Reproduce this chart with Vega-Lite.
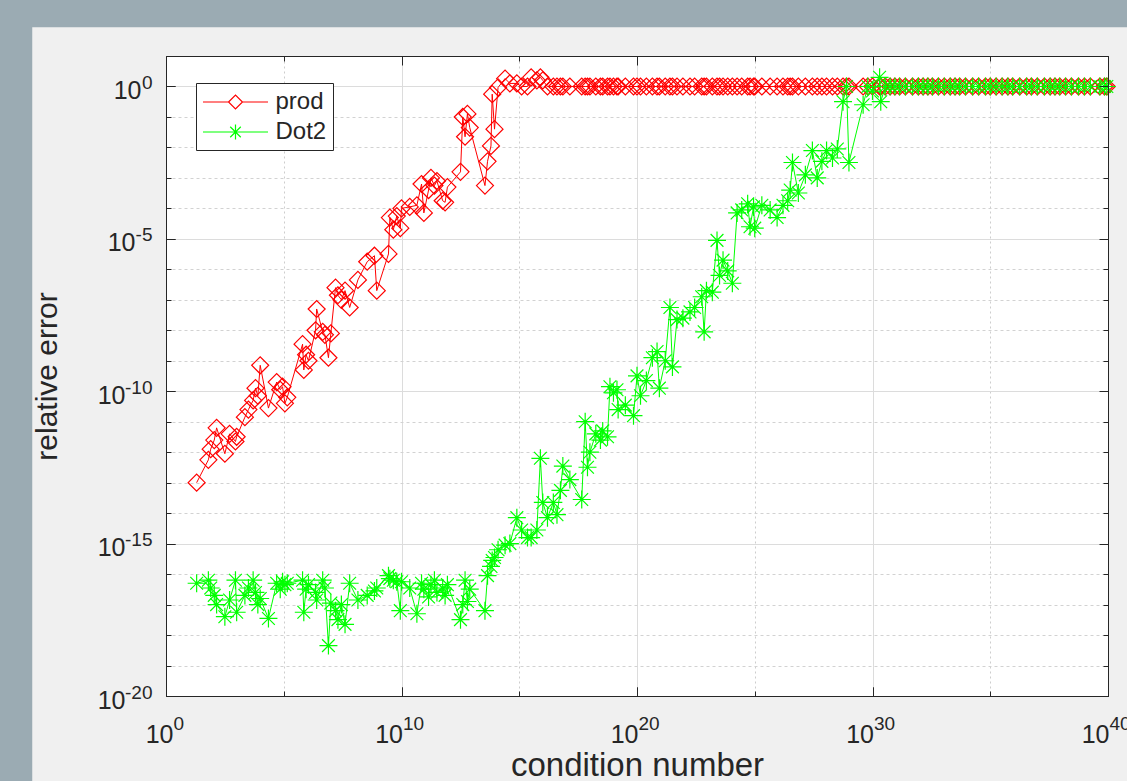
{
  "$schema": "https://vega.github.io/schema/vega-lite/v6.json",
  "width": 942,
  "height": 640,
  "autosize": {"type": "none"},
  "padding": {"left": 166, "top": 56, "right": 19, "bottom": 85},
  "background": "#F0F0F0",
  "config": {
    "font": "Liberation Sans",
    "view": {"fill": "#FFFFFF", "stroke": "#262626", "strokeWidth": 1},
    "axis": {"labelFont": "Liberation Sans", "titleFont": "Liberation Sans", "labelColor": "#262626", "titleColor": "#262626", "tickColor": "#262626", "domainColor": "#262626", "titleFontWeight": "normal", "tickWidth": 1, "domainWidth": 1}
  },
  "data": {"name": "pts"},
  "datasets": {
    "pts": [
      {"cond":20,"series":"prod","error":1e-13},{"cond":63,"series":"prod","error":5.6e-13},{"cond":79,"series":"prod","error":1.26e-12},{"cond":112,"series":"prod","error":2.5e-12},{"cond":141,"series":"prod","error":6.3e-12},{"cond":316,"series":"prod","error":8.9e-13},{"cond":501,"series":"prod","error":4e-12},{"cond":891,"series":"prod","error":2.24e-12},{"cond":1000,"series":"prod","error":3.2e-12},{"cond":2239,"series":"prod","error":1.41e-11},{"cond":3162,"series":"prod","error":2.5e-11},{"cond":5012,"series":"prod","error":5e-11},{"cond":6310,"series":"prod","error":1.26e-10},{"cond":7943,"series":"prod","error":7.1e-11},{"cond":1e4,"series":"prod","error":7.1e-10},{"cond":2.24e4,"series":"prod","error":2.8e-11},{"cond":5e4,"series":"prod","error":2e-10},{"cond":7.1e4,"series":"prod","error":1.12e-10},{"cond":8.9e4,"series":"prod","error":1.41e-10},{"cond":1.12e5,"series":"prod","error":4e-11},{"cond":1.41e5,"series":"prod","error":6.3e-11},{"cond":6.3e5,"series":"prod","error":3.5e-9},{"cond":7.1e5,"series":"prod","error":5e-10},{"cond":8.9e5,"series":"prod","error":1.58e-9},{"cond":1.12e6,"series":"prod","error":1e-9},{"cond":2.24e6,"series":"prod","error":1e-8},{"cond":2.5e6,"series":"prod","error":5e-8},{"cond":4.5e6,"series":"prod","error":8.9e-9},{"cond":5.6e6,"series":"prod","error":7.1e-9},{"cond":7.9e6,"series":"prod","error":1.26e-9},{"cond":1e7,"series":"prod","error":7.9e-9},{"cond":1.58e7,"series":"prod","error":2.5e-7},{"cond":2e7,"series":"prod","error":1.41e-7},{"cond":2.8e7,"series":"prod","error":1e-7},{"cond":4e7,"series":"prod","error":2e-7},{"cond":6.3e7,"series":"prod","error":5.6e-8},{"cond":1.41e8,"series":"prod","error":4.5e-7},{"cond":3.5e8,"series":"prod","error":1.78e-6},{"cond":7.1e8,"series":"prod","error":2.8e-6},{"cond":8.9e8,"series":"prod","error":2e-7},{"cond":2.8e9,"series":"prod","error":3.2e-6},{"cond":3.2e9,"series":"prod","error":5e-5},{"cond":4.5e9,"series":"prod","error":2e-5},{"cond":6.3e9,"series":"prod","error":5.6e-5},{"cond":8.9e9,"series":"prod","error":2.24e-5},{"cond":1e10,"series":"prod","error":1e-4},{"cond":2.24e10,"series":"prod","error":1.12e-4},{"cond":4.5e10,"series":"prod","error":1.26e-4},{"cond":7.1e10,"series":"prod","error":6.3e-4},{"cond":8.9e10,"series":"prod","error":7.1e-5},{"cond":1.41e11,"series":"prod","error":4e-4},{"cond":1.78e11,"series":"prod","error":1e-3},{"cond":2.5e11,"series":"prod","error":5.6e-4},{"cond":3.2e11,"series":"prod","error":7.9e-4},{"cond":5.6e11,"series":"prod","error":1.78e-4},{"cond":7.1e11,"series":"prod","error":1.58e-4},{"cond":8.9e11,"series":"prod","error":5e-4},{"cond":3.2e12,"series":"prod","error":1.58e-3},{"cond":4e12,"series":"prod","error":0.1},{"cond":5e12,"series":"prod","error":0.0224},{"cond":6.3e12,"series":"prod","error":0.126},{"cond":7.9e12,"series":"prod","error":0.0447},{"cond":3.5e13,"series":"prod","error":5.6e-4},{"cond":4.5e13,"series":"prod","error":3.5e-3},{"cond":6.3e13,"series":"prod","error":0.0112},{"cond":7.1e13,"series":"prod","error":0.56},{"cond":8.9e13,"series":"prod","error":0.0398},{"cond":1.26e14,"series":"prod","error":0.93},{"cond":2.5e14,"series":"prod","error":1.82},{"cond":4e14,"series":"prod","error":1.26},{"cond":7.9e14,"series":"prod","error":1.26},{"cond":1.26e15,"series":"prod","error":1},{"cond":2.24e15,"series":"prod","error":1},{"cond":3.2e15,"series":"prod","error":2},{"cond":5.6e15,"series":"prod","error":1.58},{"cond":7.9e15,"series":"prod","error":2},{"cond":1e16,"series":"prod","error":1.58},{"cond":1.58e16,"series":"prod","error":1},{"cond":2.8e16,"series":"prod","error":1},{"cond":4e16,"series":"prod","error":1},{"cond":5.6e16,"series":"prod","error":1},{"cond":7.1e16,"series":"prod","error":1},{"cond":1.41e17,"series":"prod","error":1},{"cond":4.5e17,"series":"prod","error":1},{"cond":6.3e17,"series":"prod","error":1},{"cond":7.9e17,"series":"prod","error":1},{"cond":1e18,"series":"prod","error":1},{"cond":1.78e18,"series":"prod","error":1},{"cond":2.8e18,"series":"prod","error":1},{"cond":3.5e18,"series":"prod","error":1},{"cond":5.6e18,"series":"prod","error":1},{"cond":7.1e18,"series":"prod","error":1},{"cond":1e19,"series":"prod","error":1},{"cond":1.41e19,"series":"prod","error":1},{"cond":1.58e19,"series":"prod","error":1},{"cond":3.2e19,"series":"prod","error":1},{"cond":7.1e19,"series":"prod","error":1},{"cond":1e20,"series":"prod","error":1},{"cond":1.41e20,"series":"prod","error":1},{"cond":2.5e20,"series":"prod","error":1},{"cond":4.5e20,"series":"prod","error":1},{"cond":7.1e20,"series":"prod","error":1},{"cond":8.9e20,"series":"prod","error":1},{"cond":1.58e21,"series":"prod","error":1},{"cond":2.5e21,"series":"prod","error":1},{"cond":3.2e21,"series":"prod","error":1},{"cond":5e21,"series":"prod","error":1},{"cond":8.9e21,"series":"prod","error":1},{"cond":1.78e22,"series":"prod","error":1},{"cond":2.8e22,"series":"prod","error":1},{"cond":5.6e22,"series":"prod","error":1},{"cond":7.1e22,"series":"prod","error":1},{"cond":8.9e22,"series":"prod","error":1},{"cond":1.58e23,"series":"prod","error":1},{"cond":2.5e23,"series":"prod","error":1},{"cond":3.2e23,"series":"prod","error":1},{"cond":4.5e23,"series":"prod","error":1},{"cond":7.1e23,"series":"prod","error":1},{"cond":1.12e24,"series":"prod","error":1},{"cond":1.78e24,"series":"prod","error":1},{"cond":2.8e24,"series":"prod","error":1},{"cond":5e24,"series":"prod","error":1},{"cond":6.3e24,"series":"prod","error":1},{"cond":8.9e24,"series":"prod","error":1},{"cond":1e25,"series":"prod","error":1},{"cond":2e25,"series":"prod","error":1},{"cond":4.5e25,"series":"prod","error":1},{"cond":8.9e25,"series":"prod","error":1},{"cond":1.58e26,"series":"prod","error":1},{"cond":2.5e26,"series":"prod","error":1},{"cond":3.2e26,"series":"prod","error":1},{"cond":4e26,"series":"prod","error":1},{"cond":7.1e26,"series":"prod","error":1},{"cond":1.41e27,"series":"prod","error":1},{"cond":2.8e27,"series":"prod","error":1},{"cond":4.5e27,"series":"prod","error":1},{"cond":7.1e27,"series":"prod","error":1},{"cond":1.12e28,"series":"prod","error":1},{"cond":2e28,"series":"prod","error":1},{"cond":3.2e28,"series":"prod","error":1},{"cond":5.6e28,"series":"prod","error":1},{"cond":7.9e28,"series":"prod","error":1},{"cond":1e29,"series":"prod","error":1},{"cond":4e29,"series":"prod","error":1},{"cond":6.3e29,"series":"prod","error":1},{"cond":1e30,"series":"prod","error":1},{"cond":2e30,"series":"prod","error":1},{"cond":2.24e30,"series":"prod","error":1},{"cond":3.5e30,"series":"prod","error":1},{"cond":5.6e30,"series":"prod","error":1},{"cond":8.9e30,"series":"prod","error":1},{"cond":1.41e31,"series":"prod","error":1},{"cond":2.5e31,"series":"prod","error":1},{"cond":5e31,"series":"prod","error":1},{"cond":8.9e31,"series":"prod","error":1},{"cond":1.41e32,"series":"prod","error":1},{"cond":2.24e32,"series":"prod","error":1},{"cond":3.5e32,"series":"prod","error":1},{"cond":6.3e32,"series":"prod","error":1},{"cond":1.12e33,"series":"prod","error":1},{"cond":2e33,"series":"prod","error":1},{"cond":3.2e33,"series":"prod","error":1},{"cond":5e33,"series":"prod","error":1},{"cond":8.9e33,"series":"prod","error":1},{"cond":1.78e34,"series":"prod","error":1},{"cond":3.2e34,"series":"prod","error":1},{"cond":6.3e34,"series":"prod","error":1},{"cond":1e35,"series":"prod","error":1},{"cond":1.78e35,"series":"prod","error":1},{"cond":3.2e35,"series":"prod","error":1},{"cond":5.6e35,"series":"prod","error":1},{"cond":8.9e35,"series":"prod","error":1},{"cond":1.78e36,"series":"prod","error":1},{"cond":3.5e36,"series":"prod","error":1},{"cond":5.6e36,"series":"prod","error":1},{"cond":1e37,"series":"prod","error":1},{"cond":2e37,"series":"prod","error":1},{"cond":3.5e37,"series":"prod","error":1},{"cond":5.6e37,"series":"prod","error":1},{"cond":8.9e37,"series":"prod","error":1},{"cond":1.58e38,"series":"prod","error":1},{"cond":2.8e38,"series":"prod","error":1},{"cond":5.6e38,"series":"prod","error":1},{"cond":1e39,"series":"prod","error":1},{"cond":1.78e39,"series":"prod","error":1},{"cond":4.5e39,"series":"prod","error":1},{"cond":7.1e39,"series":"prod","error":1},{"cond":8.9e39,"series":"prod","error":1},
      {"cond":20,"series":"Dot2","error":5e-17},{"cond":63,"series":"Dot2","error":6.3e-17},{"cond":79,"series":"Dot2","error":3.5e-17},{"cond":112,"series":"Dot2","error":2e-17},{"cond":141,"series":"Dot2","error":1e-17},{"cond":316,"series":"Dot2","error":4e-18},{"cond":501,"series":"Dot2","error":1.41e-17},{"cond":891,"series":"Dot2","error":6.3e-17},{"cond":1000,"series":"Dot2","error":5.6e-18},{"cond":2239,"series":"Dot2","error":2e-17},{"cond":3162,"series":"Dot2","error":3.5e-17},{"cond":5012,"series":"Dot2","error":6.3e-17},{"cond":6310,"series":"Dot2","error":2.5e-17},{"cond":7943,"series":"Dot2","error":1e-17},{"cond":1e4,"series":"Dot2","error":1.58e-17},{"cond":2.24e4,"series":"Dot2","error":3.5e-18},{"cond":5e4,"series":"Dot2","error":5e-17},{"cond":7.1e4,"series":"Dot2","error":3.2e-17},{"cond":8.9e4,"series":"Dot2","error":5.6e-17},{"cond":1.12e5,"series":"Dot2","error":4.5e-17},{"cond":1.41e5,"series":"Dot2","error":5e-17},{"cond":6.3e5,"series":"Dot2","error":6.3e-17},{"cond":7.1e5,"series":"Dot2","error":5.6e-18},{"cond":8.9e5,"series":"Dot2","error":3.2e-17},{"cond":1.12e6,"series":"Dot2","error":4.5e-17},{"cond":2.24e6,"series":"Dot2","error":2.5e-17},{"cond":2.5e6,"series":"Dot2","error":1.41e-17},{"cond":4.5e6,"series":"Dot2","error":6.3e-17},{"cond":5.6e6,"series":"Dot2","error":3.5e-17},{"cond":7.9e6,"series":"Dot2","error":4.5e-19},{"cond":1e7,"series":"Dot2","error":1.12e-17},{"cond":1.58e7,"series":"Dot2","error":6.3e-18},{"cond":2e7,"series":"Dot2","error":3.2e-18},{"cond":2.8e7,"series":"Dot2","error":1e-17},{"cond":4e7,"series":"Dot2","error":2.24e-18},{"cond":6.3e7,"series":"Dot2","error":5e-17},{"cond":1.41e8,"series":"Dot2","error":1.41e-17},{"cond":3.5e8,"series":"Dot2","error":2e-17},{"cond":7.1e8,"series":"Dot2","error":2.8e-17},{"cond":8.9e8,"series":"Dot2","error":3.5e-17},{"cond":2.8e9,"series":"Dot2","error":8.9e-17},{"cond":3.2e9,"series":"Dot2","error":7.1e-17},{"cond":4.5e9,"series":"Dot2","error":6.3e-17},{"cond":6.3e9,"series":"Dot2","error":5.6e-17},{"cond":8.9e9,"series":"Dot2","error":6.3e-18},{"cond":1e10,"series":"Dot2","error":5.6e-17},{"cond":2.24e10,"series":"Dot2","error":3.5e-17},{"cond":4.5e10,"series":"Dot2","error":5e-18},{"cond":7.1e10,"series":"Dot2","error":5e-17},{"cond":8.9e10,"series":"Dot2","error":3.2e-17},{"cond":1.41e11,"series":"Dot2","error":1.78e-17},{"cond":1.78e11,"series":"Dot2","error":4.5e-17},{"cond":2.5e11,"series":"Dot2","error":6.3e-17},{"cond":3.2e11,"series":"Dot2","error":2.5e-17},{"cond":5.6e11,"series":"Dot2","error":3.5e-17},{"cond":7.1e11,"series":"Dot2","error":2e-17},{"cond":8.9e11,"series":"Dot2","error":4.5e-17},{"cond":3.2e12,"series":"Dot2","error":3.2e-18},{"cond":4e12,"series":"Dot2","error":1e-17},{"cond":5e12,"series":"Dot2","error":6.3e-17},{"cond":6.3e12,"series":"Dot2","error":1.26e-17},{"cond":7.9e12,"series":"Dot2","error":3.2e-17},{"cond":3.5e13,"series":"Dot2","error":6.3e-18},{"cond":4.5e13,"series":"Dot2","error":8.9e-17},{"cond":6.3e13,"series":"Dot2","error":1.78e-16},{"cond":7.1e13,"series":"Dot2","error":2.8e-16},{"cond":8.9e13,"series":"Dot2","error":3.5e-16},{"cond":1.26e14,"series":"Dot2","error":6.3e-16},{"cond":2.5e14,"series":"Dot2","error":8.9e-16},{"cond":4e14,"series":"Dot2","error":1e-15},{"cond":7.9e14,"series":"Dot2","error":7.1e-15},{"cond":1.26e15,"series":"Dot2","error":2.8e-15},{"cond":2.24e15,"series":"Dot2","error":1.58e-15},{"cond":3.2e15,"series":"Dot2","error":1.58e-15},{"cond":5.6e15,"series":"Dot2","error":2.8e-15},{"cond":7.9e15,"series":"Dot2","error":6.3e-13},{"cond":1e16,"series":"Dot2","error":2.24e-14},{"cond":1.58e16,"series":"Dot2","error":7.1e-15},{"cond":2.8e16,"series":"Dot2","error":2.24e-14},{"cond":4e16,"series":"Dot2","error":8.9e-15},{"cond":5.6e16,"series":"Dot2","error":5.6e-14},{"cond":7.1e16,"series":"Dot2","error":3.5e-13},{"cond":1.41e17,"series":"Dot2","error":1.26e-13},{"cond":4.5e17,"series":"Dot2","error":2.8e-14},{"cond":6.3e17,"series":"Dot2","error":1e-11},{"cond":7.9e17,"series":"Dot2","error":3.2e-13},{"cond":1e18,"series":"Dot2","error":1e-12},{"cond":1.78e18,"series":"Dot2","error":4e-12},{"cond":2.8e18,"series":"Dot2","error":2.5e-12},{"cond":3.5e18,"series":"Dot2","error":5e-12},{"cond":5.6e18,"series":"Dot2","error":3.2e-12},{"cond":7.1e18,"series":"Dot2","error":1.41e-10},{"cond":1e19,"series":"Dot2","error":8.9e-11},{"cond":1.41e19,"series":"Dot2","error":1.12e-10},{"cond":1.58e19,"series":"Dot2","error":2.5e-11},{"cond":3.2e19,"series":"Dot2","error":3.5e-11},{"cond":7.1e19,"series":"Dot2","error":1.58e-11},{"cond":1e20,"series":"Dot2","error":3.2e-10},{"cond":1.41e20,"series":"Dot2","error":7.1e-11},{"cond":2.5e20,"series":"Dot2","error":2.24e-10},{"cond":4.5e20,"series":"Dot2","error":1.26e-9},{"cond":7.1e20,"series":"Dot2","error":2e-9},{"cond":8.9e20,"series":"Dot2","error":1.26e-10},{"cond":1.58e21,"series":"Dot2","error":1e-9},{"cond":2.5e21,"series":"Dot2","error":5.6e-8},{"cond":3.2e21,"series":"Dot2","error":6.3e-10},{"cond":5e21,"series":"Dot2","error":2.24e-8},{"cond":8.9e21,"series":"Dot2","error":2.5e-8},{"cond":1.78e22,"series":"Dot2","error":4e-8},{"cond":2.8e22,"series":"Dot2","error":5.6e-8},{"cond":5.6e22,"series":"Dot2","error":1.26e-7},{"cond":7.1e22,"series":"Dot2","error":8.9e-9},{"cond":8.9e22,"series":"Dot2","error":2e-7},{"cond":1.58e23,"series":"Dot2","error":1.78e-7},{"cond":2.5e23,"series":"Dot2","error":8.9e-6},{"cond":3.2e23,"series":"Dot2","error":6.3e-7},{"cond":4.5e23,"series":"Dot2","error":2e-6},{"cond":7.1e23,"series":"Dot2","error":8.9e-7},{"cond":1.12e24,"series":"Dot2","error":3.5e-7},{"cond":1.78e24,"series":"Dot2","error":7.1e-5},{"cond":2.8e24,"series":"Dot2","error":8.9e-5},{"cond":5e24,"series":"Dot2","error":1.41e-4},{"cond":6.3e24,"series":"Dot2","error":2.5e-5},{"cond":8.9e24,"series":"Dot2","error":1.12e-4},{"cond":1e25,"series":"Dot2","error":2.24e-5},{"cond":2e25,"series":"Dot2","error":1.26e-4},{"cond":4.5e25,"series":"Dot2","error":8.9e-5},{"cond":8.9e25,"series":"Dot2","error":5e-5},{"cond":1.58e26,"series":"Dot2","error":1.26e-4},{"cond":2.5e26,"series":"Dot2","error":1.78e-4},{"cond":3.2e26,"series":"Dot2","error":4e-4},{"cond":4e26,"series":"Dot2","error":3.2e-3},{"cond":7.1e26,"series":"Dot2","error":3.2e-4},{"cond":1.41e27,"series":"Dot2","error":1.26e-3},{"cond":2.8e27,"series":"Dot2","error":7.9e-3},{"cond":4.5e27,"series":"Dot2","error":1e-3},{"cond":7.1e27,"series":"Dot2","error":3.5e-3},{"cond":1.12e28,"series":"Dot2","error":7.9e-3},{"cond":2e28,"series":"Dot2","error":4.5e-3},{"cond":3.2e28,"series":"Dot2","error":8.9e-3},{"cond":5.6e28,"series":"Dot2","error":0.316},{"cond":7.9e28,"series":"Dot2","error":1},{"cond":1e29,"series":"Dot2","error":3.2e-3},{"cond":4e29,"series":"Dot2","error":0.251},{"cond":6.3e29,"series":"Dot2","error":1},{"cond":1e30,"series":"Dot2","error":0.708},{"cond":2e30,"series":"Dot2","error":2},{"cond":2.24e30,"series":"Dot2","error":0.316},{"cond":3.5e30,"series":"Dot2","error":1},{"cond":5.6e30,"series":"Dot2","error":1},{"cond":8.9e30,"series":"Dot2","error":1},{"cond":1.41e31,"series":"Dot2","error":1},{"cond":2.5e31,"series":"Dot2","error":1},{"cond":5e31,"series":"Dot2","error":1},{"cond":8.9e31,"series":"Dot2","error":1},{"cond":1.41e32,"series":"Dot2","error":1},{"cond":2.24e32,"series":"Dot2","error":1},{"cond":3.5e32,"series":"Dot2","error":1},{"cond":6.3e32,"series":"Dot2","error":1},{"cond":1.12e33,"series":"Dot2","error":1},{"cond":2e33,"series":"Dot2","error":1},{"cond":3.2e33,"series":"Dot2","error":1},{"cond":5e33,"series":"Dot2","error":1},{"cond":8.9e33,"series":"Dot2","error":1},{"cond":1.78e34,"series":"Dot2","error":1},{"cond":3.2e34,"series":"Dot2","error":1},{"cond":6.3e34,"series":"Dot2","error":1},{"cond":1e35,"series":"Dot2","error":1},{"cond":1.78e35,"series":"Dot2","error":1},{"cond":3.2e35,"series":"Dot2","error":1},{"cond":5.6e35,"series":"Dot2","error":1},{"cond":8.9e35,"series":"Dot2","error":1},{"cond":1.78e36,"series":"Dot2","error":1},{"cond":3.5e36,"series":"Dot2","error":1},{"cond":5.6e36,"series":"Dot2","error":1},{"cond":1e37,"series":"Dot2","error":1},{"cond":2e37,"series":"Dot2","error":1},{"cond":3.5e37,"series":"Dot2","error":1},{"cond":5.6e37,"series":"Dot2","error":1},{"cond":8.9e37,"series":"Dot2","error":1},{"cond":1.58e38,"series":"Dot2","error":1},{"cond":2.8e38,"series":"Dot2","error":1},{"cond":5.6e38,"series":"Dot2","error":1},{"cond":1e39,"series":"Dot2","error":1},{"cond":1.78e39,"series":"Dot2","error":1},{"cond":4.5e39,"series":"Dot2","error":1},{"cond":7.1e39,"series":"Dot2","error":1},{"cond":8.9e39,"series":"Dot2","error":1}
    ]
  },
  "layer": [
    {
      "data": {"values": [{}]},
      "mark": {"type": "rect", "color": "#9BABB3", "clip": false},
      "encoding": {
        "x": {"datum": 1e-30, "type": "quantitative", "scale": {"type": "log", "domain": [1, 1e40], "nice": false},
          "axis": {"orient": "bottom", "values": [1, 1e10, 1e20, 1e30, 1e40], "grid": false, "domain": true, "ticks": true, "tickSize": -9,
            "labelExpr": "'10'",
            "labelFontSize": 25, "labelBaseline": "alphabetic", "labelAlign": "right", "labelPadding": 55, "labelOverlap": false, "labelFlush": false, "labelBound": false,
            "labelOffset": {"condition": {"test": "datum.value < 10", "value": 7}, "value": 1},
            "title": "condition number", "titleFontSize": 33, "titleBaseline": "alphabetic", "titleAlign": "center", "titleY": 79, "titleX": 471, "zindex": 1}},
        "x2": {"datum": 2.09e-6},
        "y": {"datum": 1e-80, "type": "quantitative", "scale": {"type": "log", "domain": [1e-20, 10], "nice": false},
          "axis": {"orient": "left", "values": [1e-20, 1e-15, 1e-10, 1e-5, 1], "grid": false, "domain": true, "ticks": true, "tickSize": -9,
            "labelExpr": "'10'",
            "labelFontSize": 25, "labelBaseline": "alphabetic", "labelAlign": "right", "labelOverlap": false, "labelFlush": false, "labelBound": false,
            "labelOffset": 12,
            "labelPadding": {"condition": [{"test": "datum.value > 0.1", "value": 34}, {"test": "datum.value > 1e-6", "value": 40}], "value": 50},
            "title": "relative error", "titleFontSize": 30, "titleAngle": 270, "titleBaseline": "alphabetic", "titleAlign": "center", "titleX": -110, "titleY": 320, "zindex": 1}},
        "y2": {"datum": 1e40}
      }
    },
    {
      "data": {"values": [{}]},
      "mark": {"type": "rect", "color": "#9BABB3", "clip": false},
      "encoding": {
        "x": {"datum": 1e-30, "type": "quantitative", "scale": {"type": "log", "domain": [1, 1e40], "nice": false},
          "axis": {"orient": "top", "values": [1, 1e10, 1e20, 1e30, 1e40], "grid": false, "domain": true, "ticks": true, "tickSize": -9, "labels": false, "title": null, "zindex": 1}},
        "x2": {"datum": 1e60},
        "y": {"datum": 87.9, "type": "quantitative", "scale": {"type": "log", "domain": [1e-20, 10], "nice": false},
          "axis": {"orient": "right", "values": [1e-20, 1e-15, 1e-10, 1e-5, 1], "grid": false, "domain": true, "ticks": true, "tickSize": -9, "labels": false, "title": null, "zindex": 1}},
        "y2": {"datum": 1e40}
      }
    },
    {
      "data": {"values": [{}]},
      "mark": {"type": "rect", "color": "#9BABB3", "opacity": 0, "clip": false},
      "encoding": {
        "x": {"datum": 1e-30, "type": "quantitative", "scale": {"type": "log", "domain": [1, 1e40], "nice": false},
          "axis": {"orient": "bottom", "values": [1, 1e10, 1e20, 1e30, 1e40], "grid": false, "domain": false, "ticks": true, "tickSize": -9,
            "labelExpr": "'' + round(log(datum.value) / LN10)",
            "labelFontSize": 19, "labelBaseline": "alphabetic", "labelAlign": "left", "labelPadding": 42, "labelOverlap": false, "labelFlush": false, "labelBound": false,
            "labelOffset": {"condition": {"test": "datum.value < 10", "value": 7}, "value": 1},
            "title": null, "zindex": 1}},
        "x2": {"datum": 2.09e-6},
        "y": {"datum": 1e-80, "type": "quantitative", "scale": {"type": "log", "domain": [1e-20, 10], "nice": false},
          "axis": {"orient": "left", "values": [1e-20, 1e-15, 1e-10, 1e-5, 1], "grid": false, "domain": false, "ticks": true, "tickSize": -9,
            "labelExpr": "'' + round(log(datum.value) / LN10)",
            "labelFontSize": 19, "labelBaseline": "alphabetic", "labelAlign": "right", "labelPadding": 23, "labelOffset": 2, "labelOverlap": false, "labelFlush": false, "labelBound": false,
            "title": null, "zindex": 1}},
        "y2": {"datum": 1e40}
      }
    },
    {
      "transform": [{"filter": "datum.series === 'prod'"}],
      "mark": {"type": "line", "strokeWidth": 1, "clip": true, "color": "#FF0000"},
      "encoding": {
        "x": {"field": "cond", "type": "quantitative", "scale": {"type": "log", "domain": [1, 1e40], "nice": false},
          "axis": {"orient": "bottom", "values": [1, 1e5, 1e10, 1e15, 1e20, 1e25, 1e30, 1e35, 1e40], "grid": true,
            "gridColor": {"condition": {"test": "round(log(datum.value)/LN10) % 10 === 0", "value": "#DCDCDC"}, "value": "#CDCDCD"},
            "gridDash": {"condition": {"test": "round(log(datum.value)/LN10) % 10 === 0", "value": []}, "value": [2, 3]},
            "gridWidth": 1, "labels": false, "domain": false, "ticks": true, "tickSize": -5, "title": null, "zindex": 0}},
        "y": {"field": "error", "type": "quantitative", "scale": {"type": "log", "domain": [1e-20, 10], "nice": false},
          "axis": {"orient": "left", "values": [1e-20, 1e-19, 1e-18, 1e-17, 1e-16, 1e-15, 1e-14, 1e-13, 1e-12, 1e-11, 1e-10, 1e-9, 1e-8, 1e-7, 1e-6, 1e-5, 1e-4, 1e-3, 1e-2, 1e-1, 1], "grid": true,
            "gridColor": {"condition": {"test": "round(log(datum.value)/LN10) % 5 === 0", "value": "#DCDCDC"}, "value": "#D2D2D2"},
            "gridDash": {"condition": {"test": "round(log(datum.value)/LN10) % 5 === 0", "value": []}, "value": [3, 3]},
            "gridWidth": 1, "labels": false, "domain": false, "ticks": true, "tickSize": -5, "title": null, "zindex": 0}}
      }
    },
    {
      "transform": [{"filter": "datum.series === 'prod'"}],
      "mark": {"type": "point", "shape": "M-1,0L0,-1L1,0L0,1Z", "filled": false, "color": "#FF0000", "strokeWidth": 1.2, "size": 289, "opacity": 1},
      "encoding": {
        "x": {"field": "cond", "type": "quantitative", "scale": {"type": "log", "domain": [1, 1e40], "nice": false},
          "axis": {"orient": "top", "values": [1, 1e5, 1e10, 1e15, 1e20, 1e25, 1e30, 1e35, 1e40], "grid": false, "labels": false, "domain": false, "ticks": true, "tickSize": -5, "title": null, "zindex": 0}},
        "y": {"field": "error", "type": "quantitative", "scale": {"type": "log", "domain": [1e-20, 10], "nice": false},
          "axis": {"orient": "right", "values": [1e-20, 1e-19, 1e-18, 1e-17, 1e-16, 1e-15, 1e-14, 1e-13, 1e-12, 1e-11, 1e-10, 1e-9, 1e-8, 1e-7, 1e-6, 1e-5, 1e-4, 1e-3, 1e-2, 1e-1, 1], "grid": false, "labels": false, "domain": false, "ticks": true, "tickSize": -5, "title": null, "zindex": 0}}
      }
    },
    {
      "transform": [{"filter": "datum.series === 'Dot2'"}],
      "mark": {"type": "line", "strokeWidth": 1, "clip": true, "color": "#00FF00"},
      "encoding": {
        "x": {"field": "cond", "type": "quantitative", "scale": {"type": "log", "domain": [1, 1e40], "nice": false}, "axis": null},
        "y": {"field": "error", "type": "quantitative", "scale": {"type": "log", "domain": [1e-20, 10], "nice": false}, "axis": null}
      }
    },
    {
      "transform": [{"filter": "datum.series === 'Dot2'"}],
      "mark": {"type": "point", "shape": "M-1,0L1,0M0,-1L0,1M-0.71,-0.71L0.71,0.71M-0.71,0.71L0.71,-0.71", "filled": false, "color": "#00FF00", "strokeWidth": 1.2, "size": 324, "opacity": 1},
      "encoding": {
        "x": {"field": "cond", "type": "quantitative", "scale": {"type": "log", "domain": [1, 1e40], "nice": false}, "axis": null},
        "y": {"field": "error", "type": "quantitative", "scale": {"type": "log", "domain": [1e-20, 10], "nice": false}, "axis": null}
      }
    },
    {
      "transform": [{"filter": "datum.series === 'none'"}],
      "mark": {"type": "point", "filled": false, "strokeWidth": 1.2, "size": 576, "opacity": 1},
      "encoding": {
        "x": {"field": "cond", "type": "quantitative", "scale": {"type": "log", "domain": [1, 1e40], "nice": false}, "axis": null},
        "y": {"field": "error", "type": "quantitative", "scale": {"type": "log", "domain": [1e-20, 10], "nice": false}, "axis": null},
        "color": {"field": "series", "type": "nominal", "scale": {"domain": ["prod", "Dot2"], "range": ["#FF0000", "#00FF00"]},
          "legend": {"orient": "none", "legendX": 30, "legendY": 27, "title": null, "symbolSize": 576, "symbolStrokeWidth": 1.2, "labelFontSize": 24, "labelFont": "Liberation Sans", "labelColor": "#262626", "labelOffset": 27, "symbolOffset": 20.5, "padding": 6, "rowPadding": 5, "strokeColor": "#262626", "fillColor": "#FFFFFF", "cornerRadius": 0}},
        "shape": {"field": "series", "type": "nominal", "scale": {"domain": ["prod", "Dot2"], "range": ["M-2.71,0L-0.58,0M0.58,0L2.71,0M-0.58,0L0,-0.58L0.58,0L0,0.58Z", "M-2.71,0L2.71,0M0,-0.625L0,0.625M-0.44,-0.44L0.44,0.44M-0.44,0.44L0.44,-0.44"]},
          "legend": {"orient": "none", "legendX": 30, "legendY": 27, "title": null, "symbolSize": 576, "symbolStrokeWidth": 1.2, "labelFontSize": 24, "labelFont": "Liberation Sans", "labelColor": "#262626", "labelOffset": 27, "symbolOffset": 20.5, "padding": 6, "rowPadding": 5, "strokeColor": "#262626", "fillColor": "#FFFFFF", "cornerRadius": 0}}
      }
    }
  ],
  "resolve": {"axis": {"x": "independent", "y": "independent"}}
}
